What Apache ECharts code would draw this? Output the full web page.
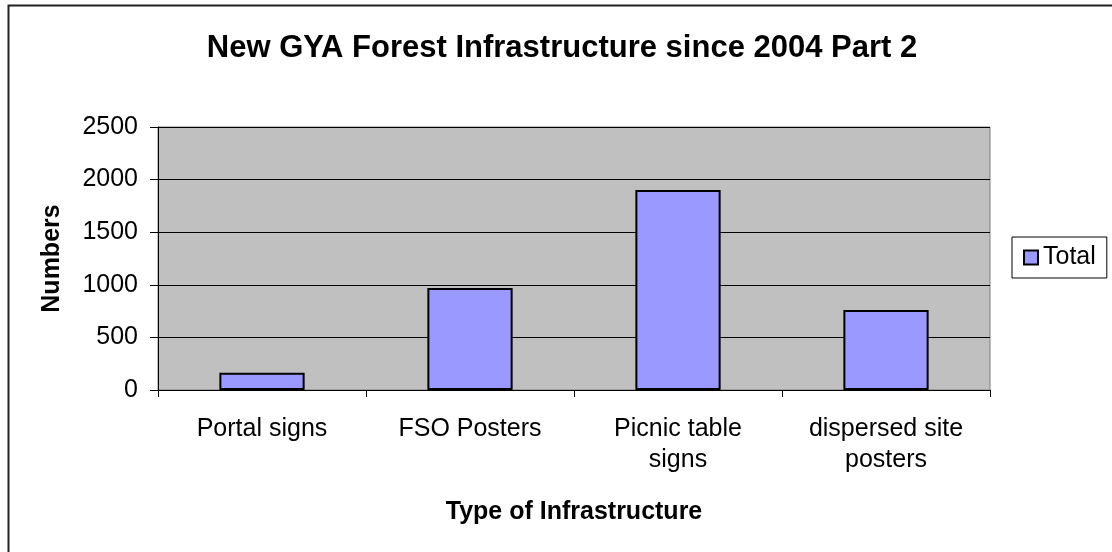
<!DOCTYPE html>
<html>
<head>
  <meta charset="utf-8">
  <title>New GYA Forest Infrastructure since 2004 Part 2</title>
  <script src="https://cdn.jsdelivr.net/npm/echarts@6/dist/echarts.min.js"></script>
  <style>
    html, body { margin: 0; padding: 0; background: #fff; }
    #chart { width: 1112px; height: 552px; }
  </style>
</head>
<body>
<div id="chart"></div>
<script>
  // data
  const categories = ['Portal signs', 'FSO Posters', 'Picnic table\nsigns', 'dispersed site\nposters'];
  const totals = [165, 970, 1900, 760];
  const yTicks = [0, 500, 1000, 1500, 2000, 2500];

  const font = '"Liberation Sans", Arial, sans-serif';

  const chart = echarts.init(document.getElementById('chart'), null, { renderer: 'canvas' });

  const option = {
    backgroundColor: '#ffffff',
    animation: false,
    title: {
      text: 'New GYA Forest Infrastructure since 2004 Part 2',
      left: 557,
      textAlign: 'center',
      top: 28,
      textStyle: { fontFamily: font, fontSize: 31, fontWeight: 'bold', color: '#000' }
    },
    legend: {
      left: 1012,
      top: 237,
      orient: 'vertical',
      itemWidth: 14,
      itemHeight: 14,
      padding: [8, 11, 8, 11],
      borderColor: '#000',
      borderWidth: 1,
      backgroundColor: '#fff',
      textStyle: { fontFamily: font, fontSize: 25, color: '#000' },
      data: [{ name: 'Total', icon: 'rect' }]
    },
    grid: {
      left: 158,
      right: 122,
      top: 127,
      bottom: 162,
      show: true,
      backgroundColor: '#c0c0c0',
      borderColor: '#808080',
      borderWidth: 1
    },
    xAxis: {
      type: 'category',
      data: categories,
      name: 'Type of Infrastructure',
      nameLocation: 'middle',
      nameGap: 110,
      nameTextStyle: { fontFamily: font, fontSize: 25, fontWeight: 'bold', color: '#000' },
      axisLine: { lineStyle: { color: '#000', width: 1 } },
      axisTick: { show: true, length: 7, alignWithLabel: false, lineStyle: { color: '#000' } },
      axisLabel: {
        fontFamily: font, fontSize: 25, color: '#000', margin: 24, lineHeight: 31,
        interval: 0
      }
    },
    yAxis: {
      type: 'value',
      min: yTicks[0],
      max: yTicks[yTicks.length - 1],
      interval: 500,
      name: 'Numbers',
      nameLocation: 'middle',
      nameGap: 93,
      nameRotate: 90,
      nameTextStyle: { fontFamily: font, fontSize: 25, fontWeight: 'bold', color: '#000' },
      axisLine: { show: true, lineStyle: { color: '#000', width: 1 } },
      axisTick: { show: true, length: 8, lineStyle: { color: '#000' } },
      axisLabel: {
        fontFamily: font, fontSize: 25, color: '#000', margin: 20,
        formatter: (v) => String(v)
      },
      splitLine: { show: true, lineStyle: { color: '#000', width: 1 } }
    },
    series: [{
      name: 'Total',
      type: 'bar',
      data: totals,
      barWidth: '41%',
      itemStyle: { color: '#9999ff', borderColor: '#000', borderWidth: 2 }
    }],
    graphic: [{
      type: 'rect',
      shape: { x: 8.5, y: 5.5, width: 1130, height: 570 },
      style: { fill: 'none', stroke: '#222', lineWidth: 2 },
      silent: true,
      z: 100
    }]
  };

  chart.setOption(option);
</script>
</body>
</html>
